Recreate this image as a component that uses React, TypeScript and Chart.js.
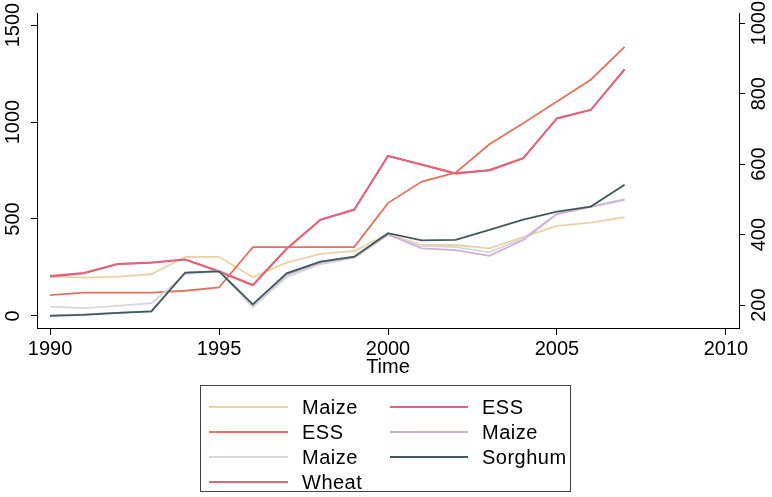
import React, { useEffect, useRef } from "react";
import { Chart, registerables } from "chart.js";

Chart.register(...registerables);

const years = [1990, 1991, 1992, 1993, 1994, 1995, 1996, 1997, 1998, 1999, 2000, 2001, 2002, 2003, 2004, 2005, 2006, 2007];

const maizeTan = [203, 198, 203, 215, 305, 305, 200, 275, 320, 335, 423, 366, 366, 349, 406, 464, 481, 509];
const essRed = [107, 120, 120, 120, 130, 147, 355, 355, 355, 355, 582, 693, 739, 885, 994, 1106, 1218, 1387];
const maizeGrey = [48, 40, 52, 66, 215, 232, 45, 200, 268, 300, 418, 362, 355, 328, 400, 528, 566, 602];
const wheat = [203, 220, 267, 274, 290, 229, 158, 345, 495, 547, 826, 779, 733, 753, 814, 1020, 1063, 1273];
const essPink = [206, 222, 268, 276, 292, 232, 160, 347, 497, 549, 824, 781, 737, 750, 812, 1018, 1062, 1270];
const maizeMauve = [3, 8, 16, 24, 222, 232, 56, 212, 275, 302, 420, 349, 340, 310, 392, 525, 562, 598];
const sorghum = [0, 6, 16, 24, 224, 230, 60, 220, 280, 306, 427, 390, 392, 444, 497, 538, 564, 676];

const seriesLabels = ["Maize", "ESS", "Maize", "Wheat", "ESS", "Maize", "Sorghum"];
const seriesValues = [maizeTan, essRed, maizeGrey, wheat, essPink, maizeMauve, sorghum];
const seriesColors = ["#e9d2a8", "#e2725e", "#d6d6de", "#d86c76", "#e0647c", "#cfb0d2", "#3f5a5a"];

const leftTicks = [0, 500, 1000, 1500];
const rightTicks = [200, 400, 600, 800, 1000];
const xTicks = [1990, 1995, 2000, 2005, 2010];

const FONT = "'Liberation Sans', Arial, Helvetica, sans-serif";

export default function App() {
  const canvasRef = useRef<HTMLCanvasElement | null>(null);

  useEffect(() => {
    document.body.style.margin = "0";
    const canvas = canvasRef.current;
    if (!canvas) return;
    const tickFont = { family: FONT, size: 20 };
    const chart = new Chart(canvas, {
      type: "line",
      data: {
        datasets: seriesValues.map((vals, i) => ({
          label: seriesLabels[i],
          data: years.map((yr, j) => ({ x: yr, y: vals[j] })),
          borderColor: seriesColors[i],
          backgroundColor: seriesColors[i],
          borderWidth: 1.8,
          pointRadius: 0,
          tension: 0,
          fill: false,
          yAxisID: "y",
          order: seriesLabels.length - i,
        })),
      },
      options: {
        responsive: false,
        animation: false,
        events: [],
        layout: { padding: { left: 0, right: 0, top: 13, bottom: 118 } },
        plugins: { legend: { display: false }, tooltip: { enabled: false }, title: { display: false } },
        scales: {
          x: {
            type: "linear",
            min: 1989.615,
            max: 2010.385,
            afterBuildTicks: (s: any) => {
              s.ticks = xTicks.map((v) => ({ value: v }));
            },
            afterFit: (s: any) => {
              s.height = 51;
              s.paddingLeft = 0;
              s.paddingRight = 0;
            },
            grid: { drawOnChartArea: false, drawTicks: true, tickLength: 7, color: "#000", lineWidth: 1 },
            border: { display: true, color: "#000", width: 1 },
            ticks: {
              color: "#000",
              font: tickFont,
              padding: 2,
              minRotation: 0,
              maxRotation: 0,
              autoSkip: false,
              callback: (v: any) => String(v),
            },
            title: { display: true, text: "Time", color: "#000", font: { family: FONT, size: 20 }, padding: 0 },
          },
          y: {
            type: "linear",
            position: "left",
            min: -62,
            max: 1562,
            afterBuildTicks: (s: any) => {
              s.ticks = leftTicks.map((v) => ({ value: v }));
            },
            afterFit: (s: any) => {
              s.width = 37;
              s.paddingTop = 0;
              s.paddingBottom = 0;
            },
            grid: { drawOnChartArea: false, drawTicks: true, tickLength: 6, color: "#000", lineWidth: 1 },
            border: { display: true, color: "#000", width: 1 },
            ticks: {
              color: "#000",
              font: tickFont,
              minRotation: 90,
              maxRotation: 90,
              crossAlign: "center",
              padding: -5,
              autoSkip: false,
              callback: (v: any) => String(v),
            },
          },
          y2: {
            type: "linear",
            position: "right",
            min: 135,
            max: 1029,
            afterBuildTicks: (s: any) => {
              s.ticks = rightTicks.map((v) => ({ value: v }));
            },
            afterFit: (s: any) => {
              s.width = 33;
              s.paddingTop = 0;
              s.paddingBottom = 0;
            },
            grid: { drawOnChartArea: false, drawTicks: true, tickLength: 6, color: "#000", lineWidth: 1 },
            border: { display: true, color: "#000", width: 1 },
            ticks: {
              color: "#000",
              font: tickFont,
              minRotation: 90,
              maxRotation: 90,
              crossAlign: "center",
              padding: -8,
              autoSkip: false,
              callback: (v: any) => String(v),
            },
          },
        },
      } as any,
    });
    return () => chart.destroy();
  }, []);

  const rowTops = [21, 46, 71, 96];
  const items = seriesLabels.map((label, i) => {
    const col = i < 4 ? 0 : 1;
    const row = i < 4 ? i : i - 4;
    return { label, color: seriesColors[i], col, row };
  });

  return (
    <div style={{ position: "absolute", left: 0, top: 0, width: 772, height: 497, background: "#fff", overflow: "hidden" }}>
      <canvas ref={canvasRef} width={772} height={497} style={{ display: "block", width: 772, height: 497 }} />
      <div
        style={{
          position: "absolute",
          left: 200,
          top: 385,
          width: 371,
          height: 107,
          border: "1px solid #444",
          boxSizing: "border-box",
          background: "#fff",
          fontFamily: FONT,
          fontSize: 20,
          color: "#000",
        }}
      >
        {items.map((it, k) => {
          const sampleLeft = it.col === 0 ? 8 : 189;
          const sampleWidth = it.col === 0 ? 79 : 78;
          const textLeft = it.col === 0 ? 101 : 281;
          const cy = rowTops[it.row];
          return (
            <React.Fragment key={k}>
              <div
                style={{
                  position: "absolute",
                  left: sampleLeft,
                  top: cy - 1,
                  width: sampleWidth,
                  height: 2,
                  background: it.color,
                }}
              />
              <div
                style={{
                  position: "absolute",
                  left: textLeft,
                  top: cy - 12,
                  height: 24,
                  lineHeight: "24px",
                  whiteSpace: "nowrap",
                  letterSpacing: "0.5px",
                }}
              >
                {it.label}
              </div>
            </React.Fragment>
          );
        })}
      </div>
    </div>
  );
}
